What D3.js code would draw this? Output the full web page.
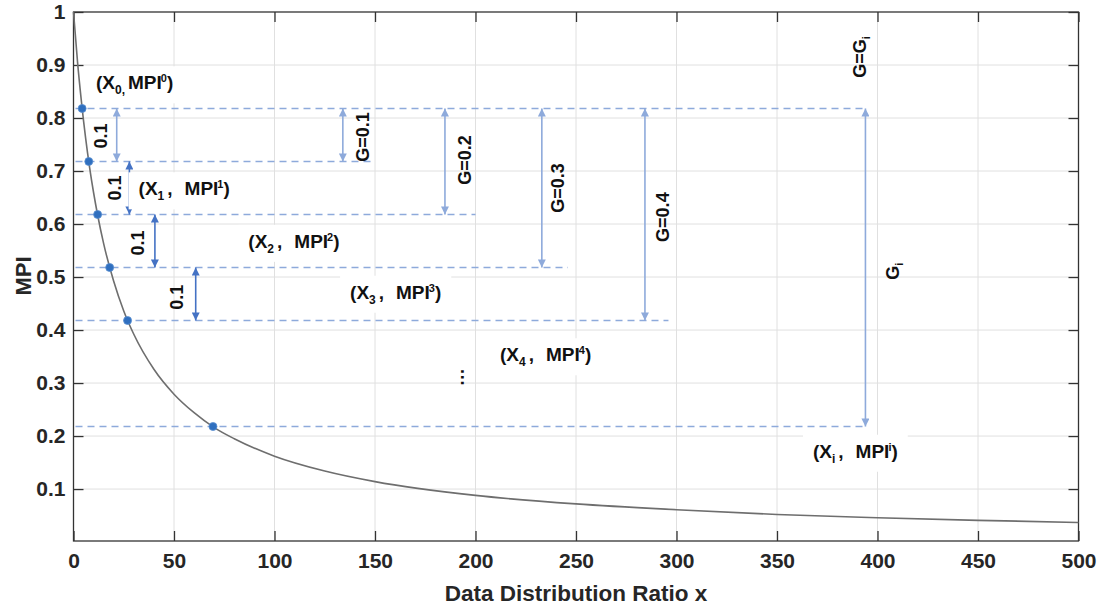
<!DOCTYPE html>
<html lang="en">
  <head>
    <meta charset="UTF-8" />
    <title>MPI vs data distribution ratio</title>
    <script src="https://d3js.org/d3.v7.min.js"></script>
    <style>
      body { margin: 0; background: #fff; }
      svg { font-family: "Liberation Sans", Arial, sans-serif; font-weight: bold; }
      .grid line { stroke: #e0e0e0; stroke-width: 1; }
      .axis path, .axis line { stroke: #333; stroke-width: 1.3; }
      .axis text { fill: #262626; font-size: 21px; font-weight: bold; font-family: "Liberation Sans", Arial, sans-serif; }
      .curve { fill: none; stroke: #6e6e6e; stroke-width: 1.6; }
      .dash { stroke: #8eaadb; stroke-width: 1.6; stroke-dasharray: 7 5; }
      .ann { fill: #111; font-size: 18px; }
      .plab { fill: #111; font-size: 19px; }
    </style>
  </head>
  <body>
    <svg width="1103" height="610"></svg>
    <script>
      // curve
      const curveX = [0, 2, 4, 6, 8, 10, 12, 15, 20, 25, 30, 40, 50, 60, 70, 80, 100, 125, 150, 200, 250, 300, 350, 400, 450, 500];
      const curveY = [1.0, 0.906, 0.829, 0.763, 0.707, 0.659, 0.617, 0.563, 0.492, 0.436, 0.392, 0.326, 0.279, 0.244, 0.216, 0.195, 0.162, 0.134, 0.114, 0.088, 0.072, 0.061, 0.052, 0.046, 0.041, 0.037];

      // marked points and their dashed levels
      const levelY = [0.818, 0.718, 0.618, 0.518, 0.418, 0.218];
      const levelX = [4.3, 7.6, 12.0, 18.0, 26.9, 69.4];
      const dashEnd = [394, 149, 200, 246, 296, 394];

      // step arrows (0.1 between neighbouring levels)
      const stepX = [21.5, 27.8, 40.5, 60.8];
      const stepLabelX = [13.2, 20.6, 31.6, 51.5];
      const stepLabelY = [0.766, 0.668, 0.564, 0.462];

      // G arrows from the top level
      const gX = [134, 184.8, 233, 284.3, 394];
      const gTo = [0.718, 0.618, 0.518, 0.418, 0.218];
      const gLabels = ["G=0.1", "G=0.2", "G=0.3", "G=0.4"];
      const gLabelX = [143.9, 194.3, 241.0, 292.8];
      const gLabelY = [0.764, 0.721, 0.668, 0.613];

      // point labels (X_k, MPI^k)
      const ptSubs = ["0", "1", "2", "3", "4", "i"];
      const ptLabelX = [11.2, 32.4, 87.0, 137.6, 212.2, 367.9];
      const ptLabelY = [0.867, 0.667, 0.568, 0.472, 0.354, 0.172];

      const xTicks = [0, 50, 100, 150, 200, 250, 300, 350, 400, 450, 500];
      const yTicks = [0.1, 0.2, 0.3, 0.4, 0.5, 0.6, 0.7, 0.8, 0.9, 1];
      const yTickLabels = ["0.1", "0.2", "0.3", "0.4", "0.5", "0.6", "0.7", "0.8", "0.9", "1"];

      const plotL = 73.5, plotR = 1078.5, plotT = 12, plotB = 541;
      const svg = d3.select("svg");

      const x = d3.scaleLinear().domain([0, 500]).range([plotL, plotR]);
      const y = d3.scaleLinear().domain([0.002, 1]).range([plotB, plotT]);

      // grid
      const grid = svg.append("g").attr("class", "grid");
      grid.selectAll(".gx").data(xTicks.slice(1, -1)).enter().append("line")
        .attr("x1", d => x(d)).attr("x2", d => x(d)).attr("y1", plotT).attr("y2", plotB);
      grid.selectAll(".gy").data(yTicks.slice(0, -1)).enter().append("line")
        .attr("x1", plotL).attr("x2", plotR).attr("y1", d => y(d)).attr("y2", d => y(d));

      // axes, ticks pointing inward on all four sides
      svg.append("g").attr("class", "axis")
        .attr("transform", "translate(0," + plotB + ")")
        .call(d3.axisBottom(x).tickValues(xTicks).tickSizeInner(-10).tickSizeOuter(0).tickPadding(12));
      svg.append("g").attr("class", "axis")
        .attr("transform", "translate(0," + plotT + ")")
        .call(d3.axisTop(x).tickValues(xTicks).tickSizeInner(-10).tickSizeOuter(0).tickFormat(""));
      svg.append("g").attr("class", "axis")
        .attr("transform", "translate(" + plotL + ",0)")
        .call(d3.axisLeft(y).tickValues(yTicks).tickSizeInner(-10).tickSizeOuter(0).tickPadding(8)
          .tickFormat((d, i) => yTickLabels[i]));
      svg.append("g").attr("class", "axis")
        .attr("transform", "translate(" + plotR + ",0)")
        .call(d3.axisRight(y).tickValues(yTicks).tickSizeInner(-10).tickSizeOuter(0).tickFormat(""));
      svg.selectAll(".axis .domain").remove();
      svg.append("rect")
        .attr("x", plotL).attr("y", plotT).attr("width", plotR - plotL).attr("height", plotB - plotT)
        .attr("fill", "none").attr("stroke", "#333").attr("stroke-width", 1.3);

      // axis titles
      svg.append("text").attr("x", 576).attr("y", 601)
        .attr("text-anchor", "middle").attr("font-size", 22.5).attr("fill", "#262626")
        .text("Data Distribution Ratio x");
      svg.append("text").attr("transform", "translate(31,276) rotate(-90)")
        .attr("text-anchor", "middle").attr("font-size", 22).attr("fill", "#262626")
        .text("MPI");

      // curve
      const pts = curveX.map((d, i) => [d, curveY[i]]);
      svg.append("path").datum(pts).attr("class", "curve")
        .attr("d", d3.line().x(d => x(d[0])).y(d => y(d[1])).curve(d3.curveMonotoneX));

      // dashed levels, from the left axis
      svg.selectAll(".dash").data(levelY).enter().append("line").attr("class", "dash")
        .attr("x1", x(0) + 2).attr("x2", (d, i) => x(dashEnd[i]))
        .attr("y1", d => y(d)).attr("y2", d => y(d));

      // arrow heads
      const defs = svg.append("defs");
      function marker(id, color) {
        defs.append("marker").attr("id", id)
          .attr("viewBox", "0 0 10 10").attr("refX", 10).attr("refY", 5)
          .attr("markerUnits", "userSpaceOnUse").attr("markerWidth", 9).attr("markerHeight", 8)
          .attr("orient", "auto-start-reverse")
          .append("path").attr("d", "M0,0 L10,5 L0,10 Z").attr("fill", color);
      }
      marker("light", "#8eaadb");
      marker("dark", "#4472c4");

      function arrow(xv, y1, y2, color, id) {
        svg.append("line")
          .attr("x1", x(xv)).attr("x2", x(xv)).attr("y1", y(y1)).attr("y2", y(y2))
          .attr("stroke", color).attr("stroke-width", 1.6)
          .attr("marker-start", "url(#" + id + ")").attr("marker-end", "url(#" + id + ")");
      }

      stepX.forEach((d, i) => {
        const light = i === 0;
        arrow(d, levelY[i], levelY[i + 1], light ? "#8eaadb" : "#4472c4", light ? "light" : "dark");
      });
      gX.forEach((d, i) => arrow(d, levelY[0], gTo[i], "#8eaadb", "light"));

      // rotated labels
      function vtext(xv, yv) {
        return svg.append("text").attr("class", "ann")
          .attr("transform", "translate(" + x(xv) + "," + y(yv) + ") rotate(-90)")
          .attr("text-anchor", "middle").attr("dy", "0.36em");
      }
      stepLabelX.forEach((d, i) => vtext(d, stepLabelY[i]).text("0.1"));
      gLabels.forEach((d, i) => vtext(gLabelX[i], gLabelY[i]).text(d));

      const gg = vtext(391.3, 0.915);
      gg.append("tspan").text("G=G");
      gg.append("tspan").attr("font-size", 11).attr("dy", 4).text("i");
      const gi = vtext(407.7, 0.511);
      gi.append("tspan").text("G");
      gi.append("tspan").attr("font-size", 11).attr("dy", 4).text("i");

      // point labels with white boxes
      ptSubs.forEach((s, i) => {
        const g = svg.append("g");
        const t = g.append("text").attr("class", "plab")
          .attr("x", x(ptLabelX[i])).attr("y", y(ptLabelY[i])).attr("dy", "0.36em");
        t.append("tspan").text("(X");
        t.append("tspan").attr("font-size", 12).attr("dy", 5).text(i === 0 ? s + "," : s);
        if (i === 0) {
          t.append("tspan").attr("dy", -5).attr("dx", 3).text("MPI");
        } else {
          t.append("tspan").attr("dy", -5).attr("dx", 3).text(",");
          t.append("tspan").attr("dx", 12).text("MPI");
        }
        t.append("tspan").attr("font-size", 11).attr("dy", -7).attr("dx", -1).text(s);
        t.append("tspan").attr("dy", 7).text(")");
        const b = t.node().getBBox();
        g.insert("rect", "text")
          .attr("x", b.x - 10).attr("y", b.y - 6)
          .attr("width", b.width + 20).attr("height", b.height + 12)
          .attr("fill", "#fff");
      });

      // vertical ellipsis
      svg.append("text").attr("class", "ann")
        .attr("transform", "translate(" + x(195.3) + "," + y(0.311) + ") rotate(90)")
        .attr("text-anchor", "middle").attr("dy", "0.3em").text("…");

      // marked points
      svg.selectAll(".pt").data(levelY).enter().append("circle")
        .attr("cx", (d, i) => x(levelX[i])).attr("cy", d => y(d))
        .attr("r", 4).attr("fill", "#2f6fbf").attr("stroke", "#5b8fd0").attr("stroke-width", 0.8);
    </script>
  </body>
</html>
